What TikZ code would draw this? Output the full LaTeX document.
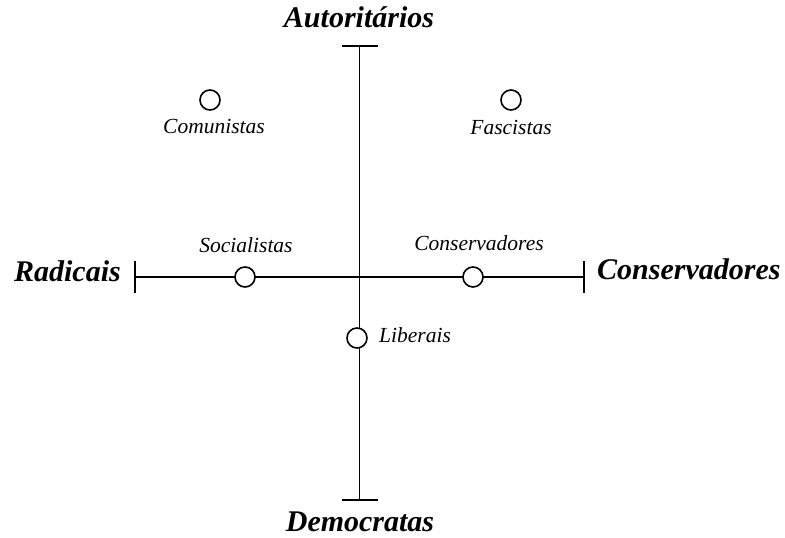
\documentclass[tikz,border=0pt]{standalone}
\usepackage{fontspec}
\setmainfont{Liberation Serif}
\usetikzlibrary{positioning}
\tikzset{
  party/.style={circle, draw, fill=white, line width=1.6pt, minimum size=20pt, inner sep=0pt},
  axisname/.style={font=\fontsize{30}{32}\selectfont\bfseries\itshape, inner sep=0pt},
  partyname/.style={font=\fontsize{21.5}{23}\selectfont\itshape, inner sep=0pt}
}

\begin{document}
\begin{tikzpicture}[x=1pt, y=1pt]

  \useasboundingbox (0, 0) rectangle (785, 538);

  % axis ends
  \coordinate (left) at (135, 261);
  \coordinate (right) at (584, 261);
  \coordinate (top) at (359, 492);
  \coordinate (bottom) at (359, 38);

  \draw[line width=1.6pt] (left) -- (right);
  \draw[line width=0.8pt] (top) -- (bottom);

  \draw[line width=1.6pt] ([yshift=-16]left) -- ([yshift=16]left);
  \draw[line width=1.6pt] ([yshift=-16]right) -- ([yshift=16]right);
  \draw[line width=1.8pt] ([xshift=-17]top) -- ([xshift=19]top);
  \draw[line width=1.8pt] ([xshift=-17]bottom) -- ([xshift=19]bottom);

  \node[axisname, anchor=base] (autor) at (359, 510) {Autoritários};
  \node[axisname, anchor=base] (democ) at (360, 6) {Democratas};
  \node[axisname, anchor=base east] (radic) at (121, 256) {Radicais};
  \node[axisname, anchor=base west] (conserv) at (597, 258) {Conservadores};

  % parties
  \node[party] (soc) at (245, 261) {};
  \node[party] (con) at (473, 261) {};
  \node[party] (lib) at (357, 200) {};
  \node[party] (com) at (210, 438) {};
  \node[party] (fas) at (511, 438) {};

  \node[partyname, anchor=base] (soclabel) at (246, 285) {Socialistas};
  \node[partyname, anchor=base] (conlabel) at (479, 287) {Conservadores};
  \node[partyname, anchor=base west] (liblabel) at (379, 195) {Liberais};
  \node[partyname, anchor=base] (comlabel) at (214, 404) {Comunistas};
  \node[partyname, anchor=base] (faslabel) at (511, 403) {Fascistas};

\end{tikzpicture}
\end{document}
